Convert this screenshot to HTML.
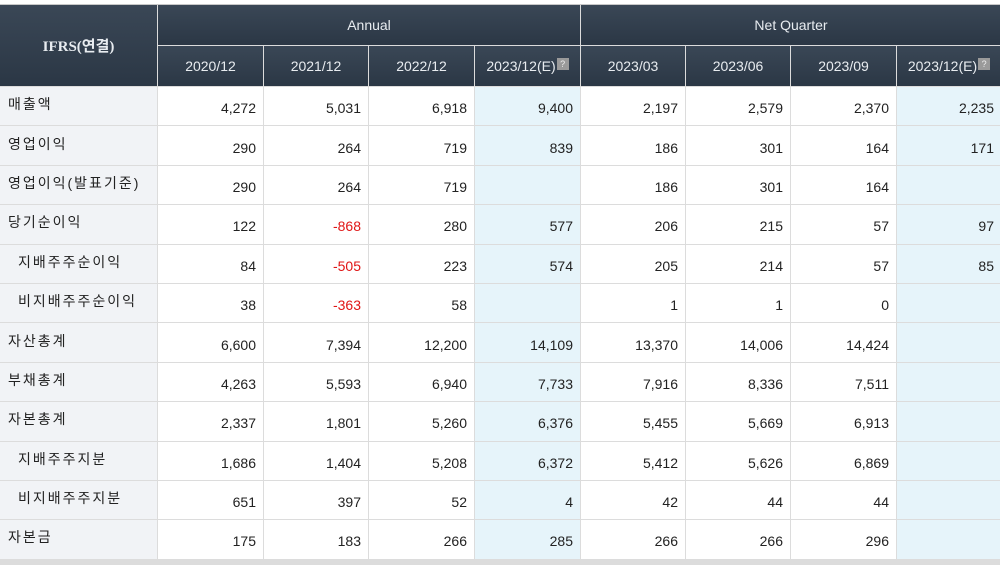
<!DOCTYPE html>
<html><head><meta charset="utf-8"><style>
html,body{margin:0;padding:0;background:#fff;width:1000px;height:556px;overflow:hidden}
#wrap{position:absolute;left:0;top:4px;width:1000px;height:560px;background:#dcdcdc;display:grid;
grid-template-columns:157px 105px 104px 105px 105px 104px 104px 105px 104px;
grid-template-rows:40px 40px repeat(12,38.4px);gap:1px;border-top:1px solid #c8c8c8;
font-family:"Liberation Sans","Noto Sans CJK KR",sans-serif;font-size:14px;color:#222}
.h{background:linear-gradient(#3a4756,#2b3745);color:#e8ecf0;display:flex;align-items:center;justify-content:center;font-size:14px}
.l{background:#f1f3f6;display:flex;align-items:center;padding-left:8px;letter-spacing:2px;padding-bottom:4px}
.s{padding-left:18px}
.v{background:#fff;display:flex;align-items:center;justify-content:flex-end;padding-right:7px;padding-top:4px}
.e{background:#e6f4fa}
.neg{color:#e01515}
.q{display:inline-block;width:12px;height:12px;background:#9a9a9a;color:#eee;font-size:9px;line-height:12px;text-align:center;margin-left:1px;margin-top:-4px}
</style></head><body>
<div id="wrap">
<div class="h" style="grid-row:1/3;grid-column:1;font-weight:bold;font-family:'Liberation Serif','Noto Sans CJK KR',serif;font-size:15px">IFRS(연결)</div>
<div class="h" style="grid-row:1;grid-column:2/6">Annual</div>
<div class="h" style="grid-row:1;grid-column:6/10">Net Quarter</div>
<div class="h">2020/12</div>
<div class="h">2021/12</div>
<div class="h">2022/12</div>
<div class="h">2023/12(E)<span class="q">?</span></div>
<div class="h">2023/03</div>
<div class="h">2023/06</div>
<div class="h">2023/09</div>
<div class="h">2023/12(E)<span class="q">?</span></div>

<div class="l">매출액</div><div class="v">4,272</div><div class="v">5,031</div><div class="v">6,918</div><div class="v e">9,400</div><div class="v">2,197</div><div class="v">2,579</div><div class="v">2,370</div><div class="v e">2,235</div>
<div class="l">영업이익</div><div class="v">290</div><div class="v">264</div><div class="v">719</div><div class="v e">839</div><div class="v">186</div><div class="v">301</div><div class="v">164</div><div class="v e">171</div>
<div class="l">영업이익(발표기준)</div><div class="v">290</div><div class="v">264</div><div class="v">719</div><div class="v e"></div><div class="v">186</div><div class="v">301</div><div class="v">164</div><div class="v e"></div>
<div class="l">당기순이익</div><div class="v">122</div><div class="v neg">-868</div><div class="v">280</div><div class="v e">577</div><div class="v">206</div><div class="v">215</div><div class="v">57</div><div class="v e">97</div>
<div class="l s">지배주주순이익</div><div class="v">84</div><div class="v neg">-505</div><div class="v">223</div><div class="v e">574</div><div class="v">205</div><div class="v">214</div><div class="v">57</div><div class="v e">85</div>
<div class="l s">비지배주주순이익</div><div class="v">38</div><div class="v neg">-363</div><div class="v">58</div><div class="v e"></div><div class="v">1</div><div class="v">1</div><div class="v">0</div><div class="v e"></div>
<div class="l">자산총계</div><div class="v">6,600</div><div class="v">7,394</div><div class="v">12,200</div><div class="v e">14,109</div><div class="v">13,370</div><div class="v">14,006</div><div class="v">14,424</div><div class="v e"></div>
<div class="l">부채총계</div><div class="v">4,263</div><div class="v">5,593</div><div class="v">6,940</div><div class="v e">7,733</div><div class="v">7,916</div><div class="v">8,336</div><div class="v">7,511</div><div class="v e"></div>
<div class="l">자본총계</div><div class="v">2,337</div><div class="v">1,801</div><div class="v">5,260</div><div class="v e">6,376</div><div class="v">5,455</div><div class="v">5,669</div><div class="v">6,913</div><div class="v e"></div>
<div class="l s">지배주주지분</div><div class="v">1,686</div><div class="v">1,404</div><div class="v">5,208</div><div class="v e">6,372</div><div class="v">5,412</div><div class="v">5,626</div><div class="v">6,869</div><div class="v e"></div>
<div class="l s">비지배주주지분</div><div class="v">651</div><div class="v">397</div><div class="v">52</div><div class="v e">4</div><div class="v">42</div><div class="v">44</div><div class="v">44</div><div class="v e"></div>
<div class="l">자본금</div><div class="v">175</div><div class="v">183</div><div class="v">266</div><div class="v e">285</div><div class="v">266</div><div class="v">266</div><div class="v">296</div><div class="v e"></div>
</div>
</body></html>
